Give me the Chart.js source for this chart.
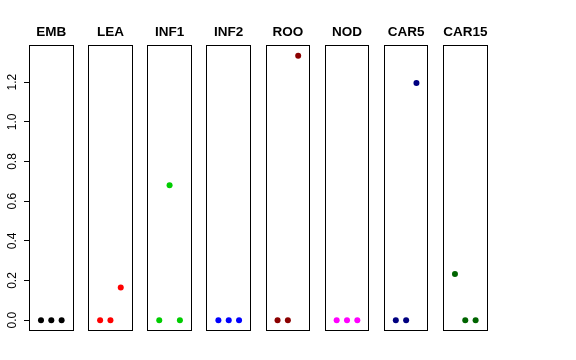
<!DOCTYPE html>
<html>
<head>
<meta charset="utf-8">
<script src="https://cdn.jsdelivr.net/npm/chart.js@4/dist/chart.umd.min.js"></script>
<style>
  html, body { margin: 0; padding: 0; background: #fff; }
  #wrap { position: relative; width: 576px; height: 360px; }
  #wrap canvas { position: absolute; left: 0; top: 0; }
</style>
</head>
<body>
<div id="wrap"></div>
<script>
// panel names and values (3 points per panel, x = 1, 2, 3)
const categories = ['EMB', 'LEA', 'INF1', 'INF2', 'ROO', 'NOD', 'CAR5', 'CAR15'];
const xPositions = [1, 2, 3];
const embValues = [0, 0, 0];
const leaValues = [0, 0, 0.165];
const inf1Values = [0, 0.68, 0];
const inf2Values = [0, 0, 0];
const rooValues = [0, 0, 1.333];
const nodValues = [0, 0, 0];
const car5Values = [0, 0, 1.196];
const car15Values = [0.232, 0, 0];
const yTicks = [0, 0.2, 0.4, 0.6, 0.8, 1.0, 1.2];
const panelColors = ['#000000', '#FF0000', '#00CD00', '#0000FF', '#8B0000', '#FF00FF', '#000080', '#006400'];

const allValues = [embValues, leaValues, inf1Values, inf2Values, rooValues, nodValues, car5Values, car15Values];

// layout (pixels)
const W = 576, H = 360;
const firstLeft = 29, panelStep = 59.14, panelWidth = 44.6;
const areaBottom = 330.7;

// draw a box round each panel
const boxPlugin = {
    id: 'box',
    afterDraw(chart) {
        const a = chart.chartArea;
        const ctx = chart.ctx;
        ctx.save();
        ctx.strokeStyle = '#000';
        ctx.lineWidth = 1;
        const l = Math.round(a.left) + 0.5;
        const t = Math.round(a.top) + 0.5;
        const r = Math.round(a.right) - 0.5;
        const b = Math.round(a.bottom) - 0.5;
        ctx.strokeRect(l, t, r - l, b - t);
        ctx.restore();
    }
};

const wrap = document.getElementById('wrap');

categories.forEach((name, i) => {
    const canvas = document.createElement('canvas');
    canvas.width = W;
    canvas.height = H;
    canvas.style.width = W + 'px';
    canvas.style.height = H + 'px';
    wrap.appendChild(canvas);

    const left = firstLeft + i * panelStep;
    const right = W - (left + panelWidth);
    const isFirst = i === 0;

    new Chart(canvas.getContext('2d'), {
        type: 'scatter',
        data: {
            datasets: [{
                data: xPositions.map((x, k) => ({ x: x, y: allValues[i][k] })),
                backgroundColor: panelColors[i],
                borderColor: panelColors[i],
                borderWidth: 0,
                pointRadius: 3,
                pointHoverRadius: 3
            }]
        },
        plugins: [boxPlugin],
        options: {
            responsive: false,
            animation: false,
            events: [],
            layout: {
                padding: { left: isFirst ? 0 : left, right: right, top: 0, bottom: H - areaBottom }
            },
            scales: {
                x: {
                    type: 'linear',
                    min: -0.16,
                    max: 4.16,
                    display: false
                },
                y: {
                    type: 'linear',
                    min: -0.0533,
                    max: 1.3863,
                    display: isFirst,
                    afterBuildTicks: (scale) => {
                        scale.ticks = yTicks.map(v => ({ value: v }));
                    },
                    afterFit: (scale) => {
                        if (isFirst) scale.width = firstLeft;
                    },
                    border: { display: false },
                    grid: {
                        drawOnChartArea: false,
                        drawTicks: true,
                        tickLength: 5,
                        color: '#000'
                    },
                    ticks: {
                        minRotation: 90,
                        maxRotation: 90,
                        crossAlign: 'center',
                        padding: 3,
                        color: '#000',
                        font: { family: 'Liberation Sans, Arial, sans-serif', size: 12 },
                        callback: (v) => Number(v).toFixed(1)
                    }
                }
            },
            plugins: {
                legend: { display: false },
                tooltip: { enabled: false },
                title: {
                    display: true,
                    text: name,
                    fullSize: false,
                    color: '#000',
                    font: { family: 'Liberation Sans, Arial, sans-serif', size: 13.5, weight: 'bold' },
                    padding: { top: 24, bottom: 5 }
                }
            }
        }
    });
});
</script>
</body>
</html>
